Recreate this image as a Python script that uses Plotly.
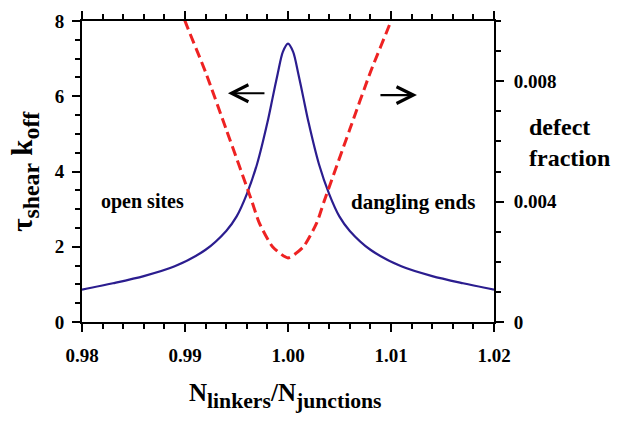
import plotly.graph_objects as go

# ---- data ----
ratio_blue = [0.980, 0.983, 0.986, 0.989, 0.992, 0.994, 0.995, 0.996, 0.997, 0.998,
              0.9985, 0.999, 0.9995, 1.000, 1.0005, 1.001, 1.0015, 1.002, 1.003,
              1.004, 1.005, 1.006, 1.008, 1.011, 1.014, 1.017, 1.020]
tau_koff = [0.86, 1.03, 1.22, 1.48, 1.92, 2.42, 2.80, 3.40, 4.20, 5.30,
            5.95, 6.60, 7.18, 7.40, 7.18, 6.60, 5.95, 5.30, 4.20,
            3.40, 2.80, 2.42, 1.92, 1.48, 1.22, 1.03, 0.86]

ratio_red = [0.9895, 0.990, 0.992, 0.994, 0.9965, 0.9972, 0.9985, 1.000,
             1.0015, 1.0028, 1.0035, 1.006, 1.008, 1.010, 1.0105]
defect_fraction = [0.0105, 0.0100, 0.0083, 0.0064, 0.0040, 0.0033, 0.0025, 0.00213,
                   0.0025, 0.0033, 0.0040, 0.0064, 0.0083, 0.0100, 0.0105]

x_ticks = [0.98, 0.99, 1.00, 1.01, 1.02]
x_ticktext = ["0.98", "0.99", "1.00", "1.01", "1.02"]
y_ticks = [0, 2, 4, 6, 8]
y2_ticks = [0, 0.004, 0.008]
y2_ticktext = ["0", "0.004", "0.008"]

X_RANGE = [0.98, 1.02]
Y_RANGE = [0, 8]
Y2_RANGE = [0, 0.01]

FONT = "Liberation Serif"
BLUE = "#2b1d8f"
RED = "#ee2222"

fig = go.Figure()
fig.add_trace(go.Scatter(x=ratio_blue, y=tau_koff, mode="lines",
                         line=dict(color=BLUE, width=2.2, shape="spline", smoothing=0.8),
                         showlegend=False))
fig.add_trace(go.Scatter(x=ratio_red, y=defect_fraction, mode="lines", yaxis="y2",
                         line=dict(color=RED, width=3, dash="10px,5px", shape="spline", smoothing=0.6),
                         showlegend=False))

tickfont = dict(family=FONT, size=19, color="black", weight="bold")
axis_common = dict(showline=True, linecolor="black", linewidth=2, ticks="outside",
                   tickcolor="black", tickwidth=2, ticklen=8, showgrid=False, zeroline=False,
                   tickfont=tickfont)
inner_common = dict(showline=False, ticks="inside", ticklen=5, tickwidth=2, tickcolor="black",
                    showticklabels=False, showgrid=False, zeroline=False)

fig.update_layout(
    width=617, height=421,
    margin=dict(l=82, r=123, t=11, b=99),
    plot_bgcolor="white", paper_bgcolor="white",
    font=dict(family=FONT, color="black"),
    xaxis=dict(range=X_RANGE, tickvals=x_ticks, ticktext=x_ticktext, mirror="ticks",
               ticklabelstandoff=7,
               minor=dict(dtick=0.002, ticks="outside", ticklen=5, tickwidth=1.5, tickcolor="black"),
               **axis_common),
    yaxis=dict(range=Y_RANGE, tickvals=y_ticks, ticklabelstandoff=4,
               minor=dict(dtick=0.5, ticks="outside", ticklen=5, tickwidth=1.5, tickcolor="black"),
               **axis_common),
    yaxis2=dict(range=Y2_RANGE, overlaying="y", side="right", tickvals=y2_ticks,
                ticktext=y2_ticktext, ticklabelstandoff=6,
                minor=dict(dtick=0.001, ticks="outside", ticklen=5, tickwidth=1.5, tickcolor="black"),
                **axis_common),
    # inner halves of the major ticks (they cross the axis lines)
    xaxis2=dict(range=X_RANGE, overlaying="x", side="bottom", anchor="y", tickvals=x_ticks,
                **inner_common),
    yaxis3=dict(range=Y_RANGE, overlaying="y", side="left", anchor="x", tickvals=y_ticks,
                **inner_common),
    yaxis4=dict(range=Y2_RANGE, overlaying="y", side="right", anchor="x", tickvals=y2_ticks,
                **inner_common),
)

# axis titles and labels (main letters shrunk via span so subscripts stay large)
fig.add_annotation(xref="paper", yref="paper", x=0.493, y=-0.245, showarrow=False,
                   text="<span style='font-size:25px'>N</span><sub>linkers</sub>"
                        "<span style='font-size:25px'>/N</span><sub>junctions</sub>",
                   font=dict(family=FONT, size=31, color="black", weight="bold"),
                   xanchor="center", yanchor="middle")
fig.add_annotation(xref="paper", yref="paper", x=-0.14, y=0.5, showarrow=False, textangle=-90,
                   text="<span style='font-size:29px'>τ</span><sub>shear</sub>"
                        "<span style='font-size:29px'> k</span><sub>off</sub>",
                   font=dict(family=FONT, size=34, color="black", weight="bold"),
                   xanchor="center", yanchor="middle")
fig.add_annotation(xref="paper", yref="paper", x=1.081, y=0.598, showarrow=False,
                   text="defect<br>fraction", align="left",
                   font=dict(family=FONT, size=24, color="black", weight="bold"),
                   xanchor="left", yanchor="middle")
fig.add_annotation(x=0.98587, y=3.2, showarrow=False, text="open sites",
                   font=dict(family=FONT, size=20, color="black", weight="bold"),
                   xanchor="center", yanchor="middle")
fig.add_annotation(x=1.01218, y=3.2, showarrow=False, text="dangling ends",
                   font=dict(family=FONT, size=21, color="black", weight="bold"),
                   xanchor="center", yanchor="middle")

# arrows
left_arrow = dict(head=(0.99417, 6.08), tail=(0.99786, 6.08))
right_arrow = dict(head=(1.01252, 6.03), tail=(1.00883, 6.03))
for a in (left_arrow, right_arrow):
    fig.add_annotation(x=a["head"][0], y=a["head"][1], ax=a["tail"][0], ay=a["tail"][1],
                       xref="x", yref="y", axref="x", ayref="y", text="",
                       showarrow=True, arrowhead=5, arrowsize=1.5, arrowwidth=2.2,
                       arrowcolor="black", standoff=0)

fig.write_html("out.html")
